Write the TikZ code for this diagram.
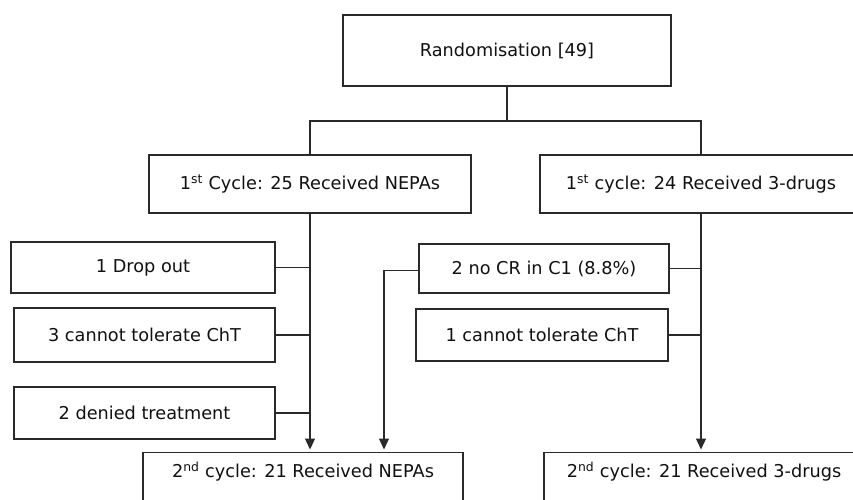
\documentclass[tikz,border=0pt]{standalone}
\usepackage{fontspec}
\setmainfont{DejaVu Sans}
\usetikzlibrary{arrows.meta}
\definecolor{ln}{HTML}{2A2A2A}
\definecolor{tx}{HTML}{111111}
\tikzset{
  box/.style={draw=ln, line width=1.3pt, rectangle, inner sep=0pt, text=tx,
    font=\fontsize{17.7}{21}\selectfont},
  conn/.style={draw=ln, line width=1.1pt},
  arr/.style={conn, -{Triangle[length=11pt,width=10pt]}, shorten >=2.5pt},
}
\newcommand{\sups}[1]{\textsuperscript{#1}}
\begin{document}
\begin{tikzpicture}[x=1pt,y=-1pt]
\useasboundingbox (0,0) rectangle (853,500);
\fill[white] (0,0) rectangle (853,500);
\clip (0,0) rectangle (853,500);
% main boxes
\node[box, minimum width=328pt, minimum height=71pt] (rand) at (507,50.5) {Randomisation [49]};
\node[box, minimum width=322pt, minimum height=58pt] (c1L) at (310,184) {1\sups{st} Cycle: 25 Received NEPAs};
\node[box, minimum width=322pt, minimum height=58pt] (c1R) at (701,184) {1\sups{st} cycle: 24 Received 3-drugs};
% left side boxes
\node[box, minimum width=264pt, minimum height=51pt] (drop) at (143,267.5) {1 Drop out};
\node[box, minimum width=261pt, minimum height=54pt] (tolL) at (144.5,335) {3 cannot tolerate ChT};
\node[box, minimum width=261pt, minimum height=52pt] (denied) at (144.5,413) {2 denied treatment};
% right side boxes
\node[box, minimum width=250pt, minimum height=49pt] (nocr) at (544,268.5) {2 no CR in C1 (8.8\%)};
\node[box, minimum width=252pt, minimum height=52pt] (tolR) at (542,335) {1 cannot tolerate ChT};
% bottom boxes
\node[box, anchor=north, minimum width=320pt, text height=25pt, text depth=50pt] (c2L) at (303,452) {2\sups{nd} cycle: 21 Received NEPAs};
\node[box, anchor=north, minimum width=320pt, text height=25pt, text depth=50pt] (c2R) at (704,452) {2\sups{nd} cycle: 21 Received 3-drugs};
% connectors
\coordinate (split) at (507,121);
\coordinate (inL) at (384,452);
\draw[conn] (rand.south) -- (split);
\draw[conn] (c1L.north) |- (split) -| (c1R.north);
\draw[arr] (c1L.south) -- (c1L.south |- c2L.north);
\draw[arr] (c1R.south) -- (c1R.south |- c2R.north);
\draw[conn] (drop.east) -- (drop.east -| c1L.south);
\draw[conn] (tolL.east) -- (tolL.east -| c1L.south);
\draw[conn] (denied.east) -- (denied.east -| c1L.south);
\draw[conn] (nocr.east) -- (nocr.east -| c1R.south);
\draw[conn] (tolR.east) -- (tolR.east -| c1R.south);
\draw[arr] ([yshift=-2pt]nocr.west) -| (inL);
\end{tikzpicture}
\end{document}
